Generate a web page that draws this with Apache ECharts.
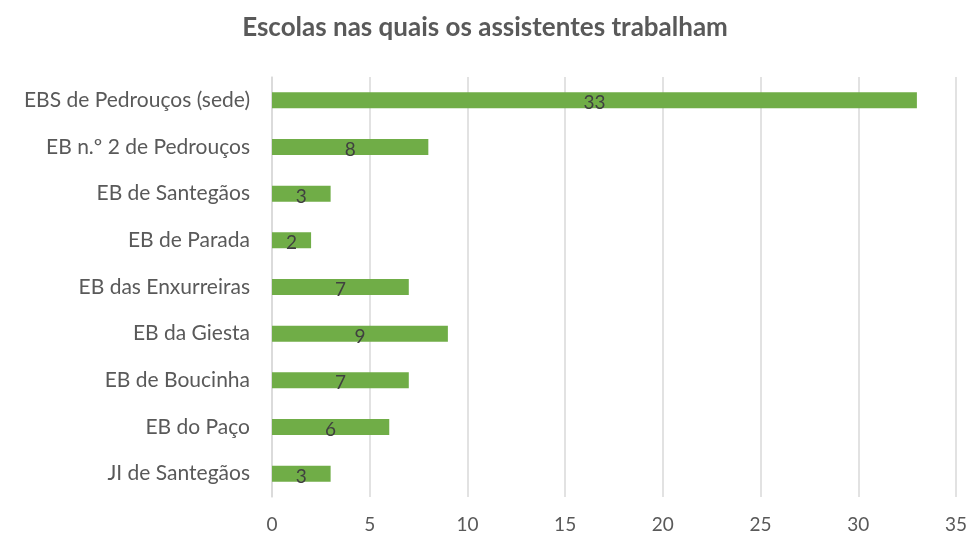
<!DOCTYPE html>
<html>
<head>
<meta charset="utf-8">
<script src="https://cdn.jsdelivr.net/npm/echarts@6/dist/echarts.min.js"></script>
<style>
  html, body { margin: 0; padding: 0; background: #fff; }
  #chart { width: 970px; height: 538px; }
</style>
</head>
<body>
<div id="chart"></div>
<script>
// categories listed top to bottom
const schools = [
  'EBS de Pedrouços (sede)',
  'EB n.º 2 de Pedrouços',
  'EB de Santegãos',
  'EB de Parada',
  'EB das Enxurreiras',
  'EB da Giesta',
  'EB de Boucinha',
  'EB do Paço',
  'JI de Santegãos'
]
const assistants = [33, 8, 3, 2, 7, 9, 7, 6, 3]
const xTicks = [0, 5, 10, 15, 20, 25, 30, 35]

const chart = echarts.init(document.getElementById('chart'))
chart.setOption({
  animation: false,
  textStyle: { fontFamily: 'Lato, "Open Sans", sans-serif' },
  title: {
    text: 'Escolas nas quais os assistentes trabalham',
    left: 'center',
    top: 10,
    textStyle: { fontSize: 26, fontWeight: 'bold', color: '#595959', fontFamily: 'Lato, sans-serif' }
  },
  grid: { left: 272, right: 13, top: 77, bottom: 41 },
  xAxis: {
    type: 'value',
    min: xTicks[0],
    max: xTicks[xTicks.length - 1],
    interval: 5,
    axisLine: { show: false },
    axisTick: { show: false },
    axisLabel: { color: '#595959', fontSize: 19, margin: 18 },
    splitLine: { lineStyle: { color: '#d9d9d9', width: 1.5 } }
  },
  yAxis: {
    type: 'category',
    inverse: true,
    data: schools,
    axisLine: { show: true, lineStyle: { color: '#d9d9d9', width: 1.5 } },
    axisTick: { show: false },
    axisLabel: { color: '#595959', fontSize: 21, margin: 22 }
  },
  series: [{
    type: 'bar',
    data: assistants,
    barWidth: 16,
    itemStyle: { color: '#70ad47' },
    label: {
      show: true,
      position: 'inside',
      offset: [0, 3],
      color: '#404040',
      fontSize: 19
    }
  }]
})
</script>
</body>
</html>
